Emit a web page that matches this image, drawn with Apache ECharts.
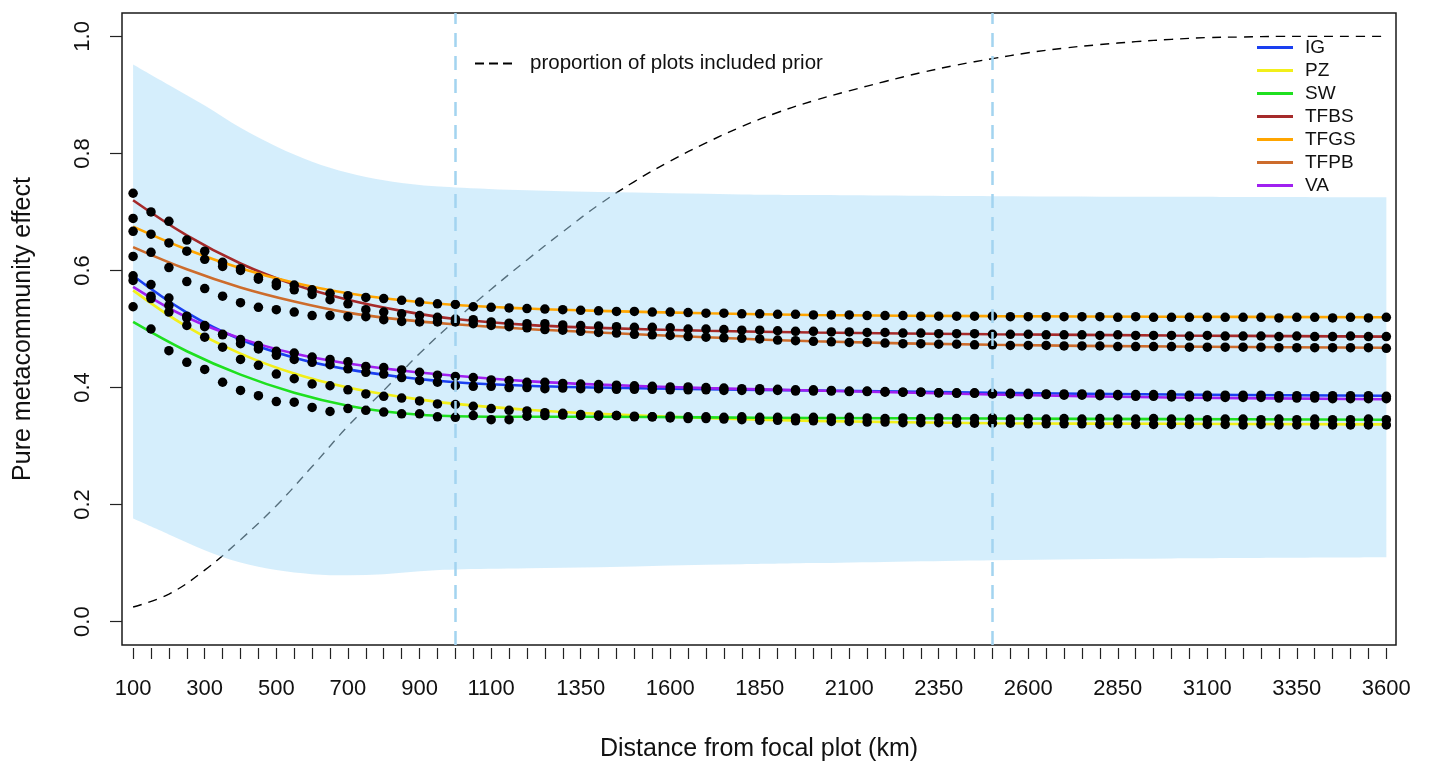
<!DOCTYPE html>
<html>
<head>
<meta charset="utf-8">
<script src="https://cdn.jsdelivr.net/npm/echarts@6/dist/echarts.min.js"></script>
<style>
  html, body { margin: 0; padding: 0; background: #ffffff; }
  #chart { width: 1430px; height: 767px; }
</style>
</head>
<body>
<div id="chart"></div>
<script>
// Distances (km) at which the metacommunity effect was estimated
const distances = [
  100, 150, 200, 250, 300, 350, 400, 450, 500, 550,
  600, 650, 700, 750, 800, 850, 900, 950, 1000, 1050,
  1100, 1150, 1200, 1250, 1300, 1350, 1400, 1450, 1500, 1550,
  1600, 1650, 1700, 1750, 1800, 1850, 1900, 1950, 2000, 2050,
  2100, 2150, 2200, 2250, 2300, 2350, 2400, 2450, 2500, 2550,
  2600, 2650, 2700, 2750, 2800, 2850, 2900, 2950, 3000, 3050,
  3100, 3150, 3200, 3250, 3300, 3350, 3400, 3450, 3500, 3550,
  3600
];

// Labelled distances on the x axis, labelled values on the y axis
const xTickLabels = [100, 300, 500, 700, 900, 1100, 1350, 1600, 1850, 2100, 2350, 2600, 2850, 3100, 3350, 3600];
const yTickLabels = [0, 0.2, 0.4, 0.6, 0.8, 1.0];

// Vertical reference distances
const cutoffDistances = [1000, 2500];

// Observed pure metacommunity effect per region
const dotsIG = [
  .624, .576, .553, .522, .504, .490, .475, .466, .455, .448,
  .443, .439, .432, .426, .423, .417, .412, .409, .403, .402,
  .402, .400, .400, .398, .399, .398, .398, .397, .397, .397,
  .396, .396, .396, .395, .395, .395, .395, .394, .394, .394,
  .393, .393, .392, .392, .392, .391, .391, .391, .390, .390,
  .390, .389, .389, .389, .389, .388, .388, .388, .388, .387,
  .387, .387, .387, .387, .386, .386, .386, .386, .386, .386,
  .385
];
const dotsPZ = [
  .583, .552, .529, .506, .486, .469, .448, .438, .423, .415,
  .406, .403, .396, .389, .385, .382, .377, .372, .371, .368,
  .364, .361, .360, .357, .356, .354, .353, .352, .350, .350,
  .348, .347, .347, .346, .345, .344, .344, .343, .343, .342,
  .342, .341, .341, .340, .340, .340, .339, .339, .339, .339,
  .338, .338, .338, .338, .337, .338, .337, .337, .337, .337,
  .337, .337, .336, .337, .336, .336, .336, .336, .336, .336,
  .336
];
const dotsSW = [
  .538, .500, .463, .443, .431, .409, .395, .386, .376, .375,
  .366, .359, .364, .361, .358, .355, .355, .350, .349, .352,
  .345, .345, .351, .352, .353, .352, .351, .352, .351, .350,
  .351, .350, .350, .349, .350, .349, .349, .348, .349, .348,
  .349, .348, .347, .348, .347, .348, .347, .347, .348, .346,
  .347, .346, .347, .346, .347, .346, .346, .347, .346, .346,
  .345, .346, .346, .345, .346, .345, .346, .345, .345, .346,
  .345
];
const dotsTFBS = [
  .732, .700, .684, .652, .633, .614, .603, .588, .574, .567,
  .559, .550, .543, .533, .529, .526, .523, .520, .517, .516,
  .512, .510, .509, .509, .507, .506, .505, .504, .503, .503,
  .502, .500, .500, .499, .498, .498, .497, .496, .496, .495,
  .495, .494, .494, .493, .493, .492, .492, .492, .491, .491,
  .491, .490, .490, .490, .489, .490, .489, .489, .489, .488,
  .489, .488, .488, .488, .487, .488, .487, .487, .488, .487,
  .487
];
const dotsTFGS = [
  .689, .662, .647, .633, .619, .607, .600, .585, .579, .575,
  .567, .561, .557, .554, .552, .549, .546, .543, .542, .538,
  .537, .536, .535, .534, .533, .532, .531, .530, .530, .529,
  .529, .528, .527, .527, .526, .526, .525, .525, .524, .524,
  .524, .523, .523, .523, .522, .522, .522, .522, .522, .521,
  .521, .521, .521, .521, .521, .520, .521, .520, .520, .520,
  .520, .520, .520, .520, .519, .520, .520, .519, .520, .519,
  .520
];
const dotsTFPB = [
  .667, .631, .605, .581, .569, .556, .545, .537, .533, .529,
  .523, .523, .521, .521, .516, .513, .512, .512, .512, .509,
  .506, .504, .502, .499, .498, .496, .494, .493, .491, .490,
  .489, .487, .486, .485, .484, .483, .481, .480, .479, .478,
  .477, .477, .476, .475, .475, .474, .474, .473, .473, .472,
  .472, .472, .471, .471, .471, .470, .470, .470, .470, .469,
  .469, .469, .469, .469, .468, .468, .468, .468, .468, .468,
  .467
];
const dotsVA = [
  .591, .556, .540, .519, .506, .491, .482, .472, .462, .459,
  .452, .448, .444, .436, .434, .430, .426, .421, .419, .417,
  .413, .412, .409, .409, .407, .406, .405, .404, .403, .402,
  .401, .401, .400, .399, .398, .398, .397, .396, .396, .395,
  .394, .394, .393, .392, .392, .391, .390, .390, .389, .389,
  .388, .388, .387, .387, .386, .386, .385, .385, .384, .384,
  .384, .383, .383, .383, .382, .382, .382, .381, .381, .381,
  .381
];

// Fitted decay curves, sampled at these distances
const fitDistances = [100, 250, 400, 550, 700, 850, 1000, 1200, 1400, 1700, 2000, 2500, 3000, 3600];
const fitIG   = [.591, .528, .482, .451, .431, .418, .409, .403, .400, .397, .395, .391, .388, .386];
const fitPZ   = [.566, .504, .458, .424, .400, .384, .372, .362, .355, .348, .343, .339, .338, .337];
const fitSW   = [.512, .462, .422, .391, .369, .356, .351, .350, .350, .349, .348, .347, .346, .345];
const fitTFBS = [.720, .660, .612, .576, .550, .531, .517, .507, .502, .497, .494, .491, .489, .487];
const fitTFGS = [.675, .636, .604, .579, .561, .549, .541, .535, .531, .527, .524, .522, .521, .520];
const fitTFPB = [.640, .602, .571, .547, .528, .516, .508, .500, .494, .486, .479, .473, .470, .468];
const fitVA   = [.572, .520, .484, .458, .441, .429, .420, .411, .405, .399, .395, .388, .383, .380];

// Null envelope (shaded band)
const bandDistances = [100, 200, 300, 400, 500, 600, 700, 800, 900, 1000, 1200, 1400, 1600, 1800, 2000, 2500, 3000, 3600];
const bandUpper = [.952, .917, .882, .844, .812, .786, .767, .754, .746, .742, .737, .734, .732, .730, .729, .727, .726, .725];
const bandLower = [.176, .149, .122, .101, .088, .081, .079, .081, .086, .089, .091, .093, .096, .098, .100, .105, .108, .110];

// Proportion of plots included in the prior
const priorDistances = [100, 200, 300, 400, 500, 600, 700, 800, 900, 1000, 1100, 1200, 1300, 1400, 1500, 1600, 1700, 1800, 1900, 2000,
  2100, 2200, 2300, 2400, 2500, 2600, 2700, 2800, 2900, 3000, 3100, 3200, 3300, 3400, 3500, 3600];
const priorProportion = [.025, .047, .088, .140, .198, .265, .334, .395, .458, .515, .568, .618, .666, .712, .752, .787, .818, .846, .870, .890,
  .907, .923, .938, .951, .962, .972, .980, .986, .991, .995, .998, .999, 1.0, 1.0, 1.0, 1.0];

const regions = [
  { name: 'IG',   color: '#1a3ff0', fit: fitIG,   dots: dotsIG },
  { name: 'PZ',   color: '#f2ef1a', fit: fitPZ,   dots: dotsPZ },
  { name: 'SW',   color: '#1fe01f', fit: fitSW,   dots: dotsSW },
  { name: 'TFBS', color: '#a52a2a', fit: fitTFBS, dots: dotsTFBS },
  { name: 'TFGS', color: '#ffa500', fit: fitTFGS, dots: dotsTFGS },
  { name: 'TFPB', color: '#cd6c2c', fit: fitTFPB, dots: dotsTFPB },
  { name: 'VA',   color: '#a020f0', fit: fitVA,   dots: dotsVA }
];

const PRIOR_NAME = 'proportion of plots included prior';
const FONT = "'Liberation Sans', Arial, Helvetica, sans-serif";

const pairs = (xs, ys) => xs.map((x, i) => [x, ys[i]]);

// Smooth path through pixel points (Catmull-Rom as cubic Bezier)
function smoothPath(pts, start) {
  let d = start + pts[0][0] + ',' + pts[0][1];
  for (let i = 0; i < pts.length - 1; i++) {
    const p0 = pts[i - 1] || pts[i], p1 = pts[i], p2 = pts[i + 1], p3 = pts[i + 2] || pts[i + 1];
    const c1x = p1[0] + (p2[0] - p0[0]) / 6, c1y = p1[1] + (p2[1] - p0[1]) / 6;
    const c2x = p2[0] - (p3[0] - p1[0]) / 6, c2y = p2[1] - (p3[1] - p1[1]) / 6;
    d += ' C' + c1x + ',' + c1y + ' ' + c2x + ',' + c2y + ' ' + p2[0] + ',' + p2[1];
  }
  return d;
}

const series = [];

// Dashed prior curve (drawn under the band)
series.push({
  name: PRIOR_NAME,
  type: 'line',
  z: 1,
  data: pairs(priorDistances, priorProportion),
  smooth: 0.4,
  showSymbol: false,
  symbol: 'none',
  lineStyle: { color: '#000000', width: 1.4, type: [9, 7] },
  itemStyle: { color: '#000000' },
  silent: true
});

// Vertical reference lines
series.push({
  name: 'cutoffs',
  type: 'line',
  z: 1,
  data: [],
  silent: true,
  markLine: {
    silent: true,
    symbol: ['none', 'none'],
    label: { show: false },
    lineStyle: { color: '#a3d4f0', width: 2.5, type: [14, 9] },
    data: cutoffDistances.map(d => ({ xAxis: d }))
  }
});

// Shaded envelope
series.push({
  name: 'envelope',
  type: 'custom',
  z: 2,
  silent: true,
  data: [[bandDistances[0], bandUpper[0]]],
  renderItem: function (params, api) {
    const up = bandDistances.map((x, i) => api.coord([x, bandUpper[i]]));
    const lo = bandDistances.map((x, i) => api.coord([x, bandLower[i]])).reverse();
    const d = smoothPath(up, 'M') + ' ' + smoothPath(lo, 'L') + ' Z';
    return { type: 'path', shape: { pathData: d }, style: { fill: 'rgba(171,221,249,0.5)' } };
  }
});

// Fitted curves
regions.forEach(r => {
  series.push({
    name: r.name,
    type: 'line',
    z: 3,
    data: pairs(fitDistances, r.fit),
    smooth: 0.4,
    showSymbol: false,
    symbol: 'none',
    lineStyle: { color: r.color, width: 2.6 },
    itemStyle: { color: r.color },
    silent: true
  });
});

// Observed points
regions.forEach(r => {
  series.push({
    name: r.name + ' observed',
    type: 'scatter',
    z: 4,
    data: pairs(distances, r.dots),
    symbol: 'circle',
    symbolSize: 9.5,
    itemStyle: { color: '#000000', opacity: 1 },
    silent: true
  });
});

const chart = echarts.init(document.getElementById('chart'), null, { renderer: 'canvas' });
chart.setOption({
  animation: false,
  backgroundColor: '#ffffff',
  textStyle: { fontFamily: FONT },
  grid: {
    left: 122, right: 34, top: 13, bottom: 122,
    show: true, borderColor: '#1a1a1a', borderWidth: 1.5, backgroundColor: 'transparent'
  },
  legend: [
    {
      data: regions.map(r => ({ name: r.name, icon: 'rect' })),
      orient: 'vertical',
      left: 1257, top: 38,
      padding: 0,
      itemWidth: 36, itemHeight: 3, itemGap: 4,
      itemStyle: { borderWidth: 0 },
      selectedMode: false,
      textStyle: { fontSize: 19, color: '#111', fontFamily: FONT, padding: [0, 0, 0, 7], lineHeight: 19 }
    },
    {
      data: [{ name: PRIOR_NAME, icon: 'path://M0,0H9V2H0Z M14,0H23V2H14Z M28,0H37V2H28Z' }],
      orient: 'horizontal',
      left: 475, top: 53,
      padding: 0,
      itemWidth: 37, itemHeight: 2,
      itemStyle: { borderWidth: 0 },
      selectedMode: false,
      textStyle: { fontSize: 20.5, color: '#111', fontFamily: FONT, padding: [0, 0, 0, 13] }
    }
  ],
  xAxis: {
    type: 'value',
    min: 69, max: 3627,
    offset: 3,
    axisLine: { show: false, onZero: false },
    axisTick: { show: true, length: 11, customValues: distances, lineStyle: { color: '#222', width: 1.2 } },
    axisLabel: {
      customValues: xTickLabels, margin: 30, fontSize: 22, color: '#111', fontFamily: FONT,
      formatter: v => String(v)
    },
    splitLine: { show: false },
    name: 'Distance from focal plot (km)',
    nameLocation: 'middle', nameGap: 89,
    nameTextStyle: { fontSize: 25, color: '#111', fontFamily: FONT }
  },
  yAxis: {
    type: 'value',
    min: -0.04, max: 1.04,
    axisLine: { show: false, onZero: false },
    axisTick: { show: true, length: 12, customValues: yTickLabels, lineStyle: { color: '#222', width: 1.2 } },
    axisLabel: {
      customValues: yTickLabels, rotate: 90, margin: 28, fontSize: 22, color: '#111', fontFamily: FONT,
      formatter: v => v.toFixed(1)
    },
    splitLine: { show: false },
    name: 'Pure metacommunity effect',
    nameLocation: 'middle', nameGap: 86, nameRotate: 90,
    nameTextStyle: { fontSize: 25, color: '#111', fontFamily: FONT }
  },
  series: series
});
</script>
</body>
</html>
